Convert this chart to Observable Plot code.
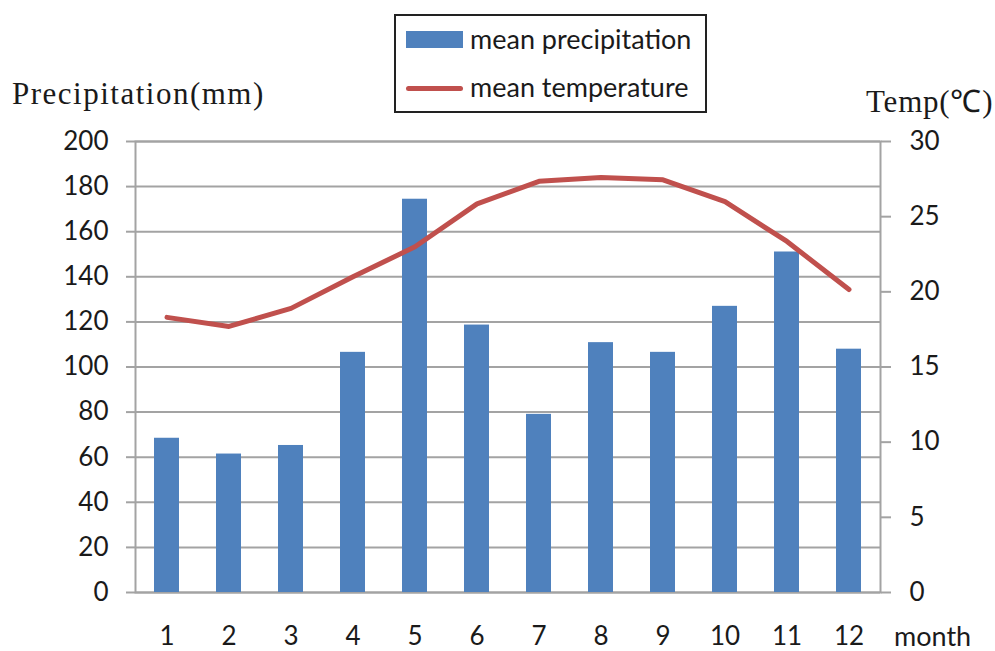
<!DOCTYPE html>
<html>
<head>
<meta charset="utf-8">
<script src="https://cdn.jsdelivr.net/npm/d3@7"></script>
<script src="https://cdn.jsdelivr.net/npm/@observablehq/plot@0.6"></script>
<style>
  html, body { margin: 0; padding: 0; background: #fff; }
  #wrap { position: relative; width: 995px; height: 651px; }
  #wrap svg { position: absolute; left: 0; top: 0; }
  .ov { position: absolute; white-space: nowrap; color: #1a1a1a; line-height: 1.2; }
  .serif { font-family: "Liberation Serif", serif; font-size: 31px; letter-spacing: 1.5px; }
  .sans { font-family: Lato, sans-serif; font-size: 26px; }
  #legend { position: absolute; left: 394px; top: 14px; width: 309px; height: 95px; border: 2px solid #222; background: #fff; }
</style>
</head>
<body>
<div id="wrap">
  <div id="legend">
    <div style="position:absolute;left:10px;top:15px;width:57px;height:17px;background:#4F81BD"></div>
    <div class="ov sans" style="left:74px;top:7px;font-size:27px">mean precipitation</div>
    <div style="position:absolute;left:10px;top:70px;width:57px;height:5px;border-radius:3px;background:#C0504D"></div>
    <div class="ov sans" style="left:74px;top:55px;font-size:27px">mean temperature</div>
  </div>
  <div class="ov serif" style="left:12px;top:75px">Precipitation(mm)</div>
  <div class="ov serif" style="left:866px;top:83px;letter-spacing:0.8px">Temp(℃)</div>
  <div class="ov sans" style="left:894px;top:620px;font-size:27px">month</div>
</div>
<script>
const months = [1, 2, 3, 4, 5, 6, 7, 8, 9, 10, 11, 12];
const precipitation = [68.4, 61.4, 65.2, 106.5, 174.4, 118.6, 79.0, 110.8, 106.5, 126.9, 151.0, 107.9];
const temperature = [18.3, 17.7, 18.9, 21.0, 23.0, 25.85, 27.35, 27.6, 27.45, 26.0, 23.35, 20.15];
const precipTicks = [0, 20, 40, 60, 80, 100, 120, 140, 160, 180, 200];
const tempTicks = [0, 5, 10, 15, 20, 25, 30];

const precipMax = 200, tempMax = 30;
const toY = t => t * precipMax / tempMax;
const rows = months.map((m, i) => ({month: m, precip: precipitation[i], temp: temperature[i]}));
const grid = "#a3a3a3";

const chart = Plot.plot({
  width: 995,
  height: 651,
  marginLeft: 135,
  marginRight: 115,
  marginTop: 141,
  marginBottom: 59,
  style: {fontFamily: "Lato, sans-serif", fontSize: "26px", color: "#1a1a1a", background: "white"},
  x: {type: "band", domain: months, paddingInner: 0.6, paddingOuter: 0.3, axis: null},
  y: {domain: [0, precipMax], axis: null},
  marks: [
    Plot.gridY(precipTicks, {stroke: grid, strokeOpacity: 1, strokeWidth: 2}),
    Plot.frame({stroke: grid, strokeWidth: 2}),
    Plot.barY(rows, {x: "month", y: "precip", fill: "#4F81BD"}),
    Plot.line(rows, {x: "month", y: d => toY(d.temp), stroke: "#C0504D", strokeWidth: 5, strokeLinecap: "round", strokeLinejoin: "round"}),
    Plot.axisY(precipTicks, {anchor: "left", tickSize: 9, tickPadding: 18, stroke: grid, strokeWidth: 2, label: null}),
    Plot.axisY(tempTicks.map(toY), {anchor: "right", tickSize: 10, tickPadding: 19, stroke: grid, strokeWidth: 2, tickFormat: v => String(Math.round(v * tempMax / precipMax)), label: null}),
    Plot.axisX({tickSize: 0, tickPadding: 34, label: null})
  ]
});
document.getElementById("wrap").prepend(chart);
</script>
</body>
</html>
